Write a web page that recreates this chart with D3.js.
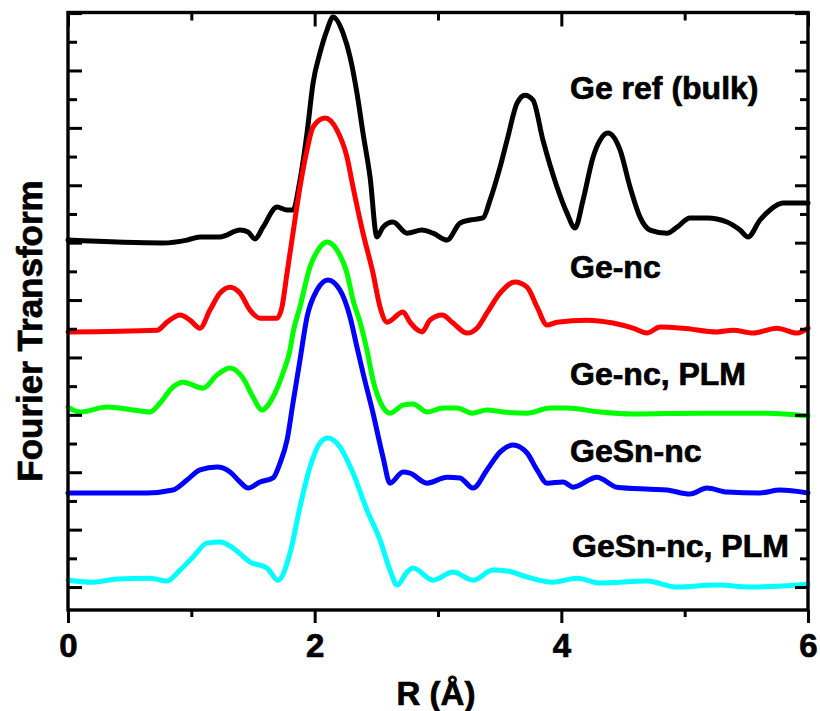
<!DOCTYPE html>
<html>
<head>
<meta charset="utf-8">
<script src="https://cdn.jsdelivr.net/npm/d3@7"></script>
<style>
  html, body { margin: 0; padding: 0; background: #fff; }
  svg { display: block; font-family: "Liberation Sans", Arial, sans-serif; font-weight: bold; }
  text { stroke: #000; stroke-width: 0.7px; }
</style>
</head>
<body>
<svg id="chart" width="820" height="711"></svg>
<script>
// ---- Data (R in Å, Fourier transform magnitude in arbitrary, offset units) ----
const geRef = [
  [0,120.9],[0.77,119.9],[0.965,120.9],[1.07,122.0],[1.232,122.0],[1.395,124.4],[1.46,123.7],[1.516,121.3],
  [1.581,125.4],[1.695,132.4],[1.776,131.4],[1.824,131.4],[1.881,141.8],[1.938,158.2],[1.987,175.6],[2.043,186.1],
  [2.1,194.1],[2.149,198.6],[2.23,193.0],[2.287,184.7],[2.343,172.1],[2.392,158.2],[2.449,142.9],[2.505,122.0],
  [2.554,125.4],[2.635,127.2],[2.749,123.3],[2.87,124.4],[2.96,123.3],[3.073,120.9],[3.178,126.8],[3.26,127.9],
  [3.365,128.6],[3.422,134.8],[3.503,146.3],[3.56,155.7],[3.641,168.6],[3.705,171.4],[3.77,169.7],[3.851,155.7],
  [3.965,139.4],[4.046,130.3],[4.111,125.1],[4.176,134.8],[4.257,149.8],[4.314,155.7],[4.378,158.2],[4.476,152.3],
  [4.557,139.4],[4.638,128.9],[4.719,124.4],[4.857,123.3],[4.938,125.4],[5.043,128.6],[5.181,128.6],[5.343,127.2],
  [5.449,124.4],[5.514,122.0],[5.611,127.9],[5.692,131.4],[5.797,133.8],[6.0,133.8]
];
const geNc = [
  [0,88.9],[0.722,89.5],[0.803,92.3],[0.908,94.8],[0.989,93.0],[1.07,90.2],[1.151,96.5],[1.232,102.4],
  [1.314,104.5],[1.395,102.4],[1.476,96.5],[1.557,93.7],[1.695,93.7],[1.735,97.6],[1.776,109.4],[1.824,123.3],
  [1.881,139.4],[1.938,152.3],[1.987,160.3],[2.084,163.4],[2.181,159.2],[2.262,149.8],[2.311,139.4],[2.392,123.3],
  [2.473,109.4],[2.53,97.6],[2.587,92.3],[2.716,95.8],[2.773,92.3],[2.87,88.9],[2.935,93.0],[3.033,94.8],
  [3.122,92.0],[3.235,88.5],[3.316,90.2],[3.397,95.5],[3.503,102.4],[3.624,106.3],[3.722,104.5],[3.803,97.6],
  [3.884,91.3],[3.965,92.3],[4.208,93.0],[4.419,92.0],[4.581,90.2],[4.695,88.5],[4.8,90.6],[4.987,90.2],
  [5.262,88.9],[5.392,89.5],[5.554,88.5],[5.749,90.2],[5.911,88.5],[6.0,90.2]
];
const geNcPlm = [
  [0,62.7],[0.097,61.0],[0.316,62.7],[0.527,61.7],[0.665,61.0],[0.746,64.1],[0.851,69.7],[0.932,71.4],
  [1.095,69.3],[1.208,73.9],[1.314,76.3],[1.419,72.8],[1.5,66.2],[1.573,61.7],[1.662,66.2],[1.743,74.6],
  [1.8,82.6],[1.824,88.5],[1.881,97.6],[1.962,111.5],[2.027,117.4],[2.1,120.2],[2.181,117.4],[2.262,109.4],
  [2.311,100.0],[2.368,92.3],[2.424,82.6],[2.473,72.1],[2.554,62.7],[2.611,60.6],[2.716,63.4],[2.797,63.8],
  [2.911,61.0],[3.041,62.4],[3.154,62.4],[3.276,60.6],[3.397,61.7],[3.527,61.0],[3.722,60.6],[3.908,62.4],
  [4.046,62.4],[4.314,61.0],[4.581,60.3],[5.124,60.6],[5.668,60.6],[6.0,59.6]
];
const geSnNc = [
  [0,32.8],[0.64,32.8],[0.851,33.8],[0.965,37.3],[1.07,40.8],[1.208,41.8],[1.314,40.1],[1.395,36.6],
  [1.46,34.5],[1.557,36.6],[1.662,38.0],[1.719,43.2],[1.776,51.2],[1.824,64.1],[1.881,79.1],[1.938,94.1],
  [2.019,103.5],[2.108,107.0],[2.205,103.5],[2.287,94.1],[2.343,83.6],[2.392,74.6],[2.473,60.6],[2.554,45.3],
  [2.611,36.2],[2.716,40.1],[2.773,39.7],[2.911,36.2],[3.073,38.3],[3.178,38.0],[3.284,34.5],[3.397,40.8],
  [3.503,47.0],[3.608,49.5],[3.722,46.7],[3.803,40.8],[3.884,36.2],[4.014,36.6],[4.095,34.8],[4.289,38.3],
  [4.451,34.8],[4.719,34.1],[4.857,33.8],[5.043,32.4],[5.181,34.5],[5.343,33.1],[5.611,32.8],[5.773,33.8],[6.0,32.8]
];
const geSnNcPlm = [
  [0,2.4],[0.203,1.7],[0.397,2.8],[0.665,3.1],[0.803,2.1],[0.908,5.9],[1.014,10.5],[1.127,15.3],
  [1.232,15.7],[1.338,13.6],[1.476,8.7],[1.614,6.6],[1.703,2.4],[1.8,11.8],[1.881,27.9],[1.962,41.8],
  [2.043,50.2],[2.108,51.9],[2.205,48.8],[2.311,39.7],[2.424,26.8],[2.53,16.4],[2.611,5.9],[2.668,0.7],
  [2.749,5.2],[2.797,6.6],[2.96,2.4],[3.122,5.2],[3.284,2.4],[3.446,5.9],[3.56,5.6],[3.722,3.5],
  [3.933,1.7],[4.127,3.1],[4.314,1.4],[4.695,2.1],[4.938,0],[5.262,0.7],[5.53,0],[6.0,1.0]
];
const seriesNames = ["Ge ref (bulk)", "Ge-nc", "Ge-nc, PLM", "GeSn-nc", "GeSn-nc, PLM"];
const seriesColors = ["#000000", "#ff0000", "#00ff00", "#0000ff", "#00ffff"];
const seriesData = [geRef, geNc, geNcPlm, geSnNc, geSnNcPlm];
const xTicks = [0, 2, 4, 6];
const xMinorTicks = [1, 3, 5];
const xLabel = "R (Å)";
const yLabel = "Fourier Transform";

// ---- Layout ----
const L = 68, R = 808, T = 12.5, B = 610;
const labelPos = [[570, 99], [570, 278], [570, 385], [570, 462], [572, 557]];
const svg = d3.select("#chart");
const x = d3.scaleLinear().domain([0, 6]).range([L, R]);
const y = d3.scaleLinear().domain([-8.0, 200.2]).range([B, T]);

const yMajor = d3.range(0, 201, 20);
const yMinor = d3.range(10, 200, 20);

// Curves
const line = d3.line().x(d => x(d[0])).y(d => y(d[1])).curve(d3.curveMonotoneX);
const plotG = svg.append("g");
seriesData.forEach((s, i) => {
  plotG.append("path").datum(s)
    .attr("fill", "none")
    .attr("stroke", seriesColors[i])
    .attr("stroke-width", 5)
    .attr("stroke-linejoin", "round")
    .attr("stroke-linecap", "round")
    .attr("d", line);
});

// Axes
const axW = 3.4;
const bottomAx = svg.append("g").attr("transform", `translate(0,${B})`)
  .call(d3.axisBottom(x).tickValues(xTicks).tickSize(13).tickSizeOuter(0).tickFormat(d3.format("d")));
bottomAx.append("g").call(d3.axisBottom(x).tickValues(xMinorTicks).tickSize(7).tickFormat(""));
const topAx = svg.append("g").attr("transform", `translate(0,${T})`)
  .call(d3.axisBottom(x).tickValues(xTicks).tickSize(14).tickSizeOuter(0).tickFormat(""));
topAx.append("g").call(d3.axisBottom(x).tickValues(xMinorTicks).tickSize(8).tickFormat(""));
const leftAx = svg.append("g").attr("transform", `translate(${L},0)`)
  .call(d3.axisRight(y).tickValues(yMajor).tickSize(14).tickSizeOuter(0).tickFormat(""));
leftAx.append("g").call(d3.axisRight(y).tickValues(yMinor).tickSize(9).tickFormat(""));
const rightAx = svg.append("g").attr("transform", `translate(${R},0)`)
  .call(d3.axisLeft(y).tickValues(yMajor).tickSize(13).tickSizeOuter(0).tickFormat(""));
rightAx.append("g").call(d3.axisLeft(y).tickValues(yMinor).tickSize(8).tickFormat(""));

svg.selectAll(".domain").remove();
svg.selectAll(".tick line").attr("stroke", "#000").attr("stroke-width", 3);
bottomAx.selectAll(".tick text")
  .attr("font-size", 33).attr("font-weight", "bold").attr("font-family", "Liberation Sans, Arial, sans-serif")
  .attr("fill", "#000").attr("dy", null).attr("y", 47);

// Frame
svg.append("rect").attr("x", L).attr("y", T).attr("width", R - L).attr("height", B - T)
  .attr("fill", "none").attr("stroke", "#000").attr("stroke-width", axW);

// Series labels
seriesNames.forEach((n, i) => {
  svg.append("text").attr("x", labelPos[i][0]).attr("y", labelPos[i][1])
    .attr("font-size", 32).attr("fill", "#000").text(n);
});

// Axis titles
svg.append("text").attr("x", 436).attr("y", 705).attr("text-anchor", "middle")
  .attr("font-size", 33).attr("fill", "#000").text(xLabel);
svg.append("text").attr("transform", "translate(42,331) rotate(-90)").attr("text-anchor", "middle")
  .attr("font-size", 35).attr("fill", "#000").text(yLabel);
</script>
</body>
</html>
